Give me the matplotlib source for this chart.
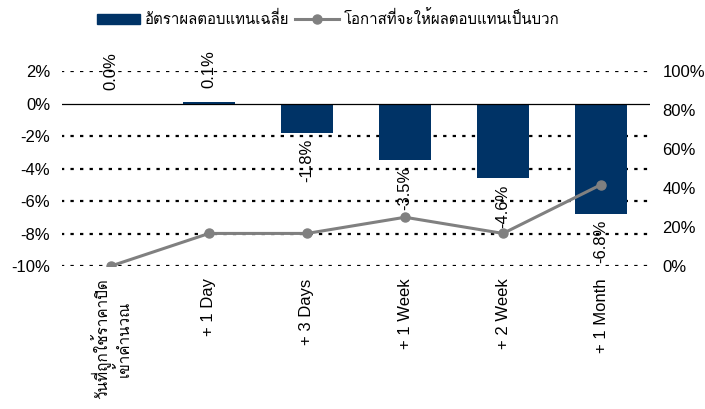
import matplotlib
matplotlib.use("Agg")
import matplotlib.pyplot as plt
from matplotlib import font_manager
from matplotlib.ft2font import FT2Font
from matplotlib.ticker import FuncFormatter
from matplotlib.lines import Line2D
from matplotlib.patches import Patch

# ---- find a font that has Thai glyphs ----
thai_family = None
cands = []
for f in font_manager.fontManager.ttflist:
    try:
        cm = FT2Font(f.fname).get_charmap()
    except Exception:
        continue
    if 0x0E2D in cm and 0x0E31 in cm and 0x0E49 in cm:
        cands.append(f.name)
if cands:
    pref = [c for c in cands if "Sans" in c or "Loma" in c or "Garuda" in c]
    thai_family = (pref or cands)[0]

fams = ["Liberation Sans"]
if thai_family:
    fams.append(thai_family)
fams.append("DejaVu Sans")
plt.rcParams["font.family"] = fams

# ---- data ----
categories = ["วันที่ถูกใช้ราคาปิด\nเข้าคำนวณ", "+ 1 Day", "+ 3 Days",
              "+ 1 Week", "+ 2 Week", "+ 1 Month"]
avg_return = [0.0, 0.1, -1.8, -3.5, -4.6, -6.8]          # percent
prob_positive = [0.0, 16.7, 16.7, 25.0, 16.7, 41.7]     # percent
left_ticks = [-10, -8, -6, -4, -2, 0, 2]
right_ticks = [0, 20, 40, 60, 80, 100]

bar_label = "อัตราผลตอบแทนเฉลี่ย"
line_label = "โอกาสที่จะให้ผลตอบแทนเป็นบวก"

BAR_C = "#003366"
LINE_C = "#808080"
FS = 12
FS_LAB = 12
FS_LEG = 10.8
FS_THAI_TICK = 11

fig = plt.figure(figsize=(7.05, 4.09), dpi=100)
ax = fig.add_axes([62 / 705, 1 - 266 / 409, (650 - 62) / 705, (266 - 71) / 409])
x = list(range(len(categories)))

ax.set_xlim(-0.5, len(categories) - 0.5)
ax.set_ylim(-10, 2)
for t in left_ticks:
    if t == 0:
        continue
    ax.axhline(t, color="black", lw=1.6, ls=(0.5, (1.5, 2.8)), zorder=1)
ax.bar(x, avg_return, width=0.53, color=BAR_C, zorder=2)
ax.axhline(0, color="black", lw=0.9, zorder=3)

for s in ax.spines.values():
    s.set_visible(False)
ax.set_yticks(left_ticks)
ax.yaxis.set_major_formatter(FuncFormatter(lambda v, p: f"{int(v)}%"))
ax.tick_params(axis="y", length=0, pad=8.5, labelsize=FS)
ax.set_xticks(x)
ax.set_xticklabels(categories, rotation=90, fontsize=FS, ha="center", va="top")
ax.get_xticklabels()[0].set_fontsize(FS_THAI_TICK)
ax.tick_params(axis="x", length=0, pad=9)

for xi, v in zip(x, avg_return):
    if v >= 0:
        ax.annotate(f"{v:.1f}%", (xi, v), xytext=(0, 14), textcoords="offset pixels",
                    rotation=90, ha="center", va="bottom", fontsize=FS_LAB, zorder=4)
    else:
        ax.annotate(f"{v:.1f}%", (xi, v), xytext=(0, -6), textcoords="offset pixels",
                    rotation=90, ha="center", va="top", fontsize=FS_LAB, zorder=4)

ax2 = ax.twinx()
ax2.set_ylim(0, 100)
ax2.plot(x, prob_positive, color=LINE_C, lw=2.2, marker="o", ms=6.5, zorder=5)
for s in ax2.spines.values():
    s.set_visible(False)
ax2.set_yticks(right_ticks)
ax2.yaxis.set_major_formatter(FuncFormatter(lambda v, p: f"{int(v)}%"))
ax2.tick_params(axis="y", length=0, pad=9, labelsize=FS)

handles = [Patch(color=BAR_C, label=bar_label),
           Line2D([], [], color=LINE_C, lw=2.2, marker="o", ms=6.5, label=line_label)]
fig.legend(handles=handles, loc="center", bbox_to_anchor=(328 / 705, 1 - 19 / 409),
           ncol=2, frameon=False, fontsize=FS_LEG, handlelength=2.9, handletextpad=0.3,
           columnspacing=0.4, borderaxespad=0)

fig.savefig("out.png", dpi=100)
